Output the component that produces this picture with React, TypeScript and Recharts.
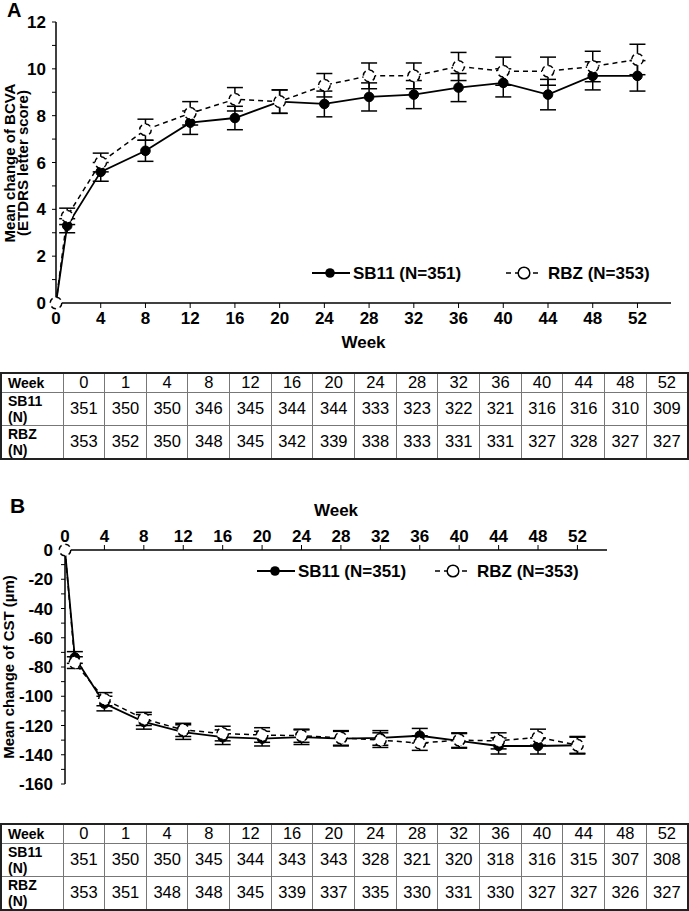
import React from "react";
import { LineChart, Line, XAxis, YAxis, ErrorBar, Label } from "recharts";

// weeks shared by both panels and tables
const weeks = [0, 1, 4, 8, 12, 16, 20, 24, 28, 32, 36, 40, 44, 48, 52];
const weekTicks = [0, 4, 8, 12, 16, 20, 24, 28, 32, 36, 40, 44, 48, 52];

// Panel A - BCVA
const bcvaSB11 = [0, 3.3, 5.6, 6.5, 7.7, 7.9, 8.6, 8.5, 8.8, 8.9, 9.2, 9.4, 8.9, 9.7, 9.7];
const bcvaSB11Err = [0, 0.3, 0.4, 0.45, 0.5, 0.5, 0.5, 0.55, 0.6, 0.6, 0.6, 0.6, 0.65, 0.6, 0.65];
const bcvaRBZ = [0, 3.7, 6.0, 7.4, 8.1, 8.7, 8.6, 9.3, 9.7, 9.7, 10.1, 9.9, 9.9, 10.1, 10.4];
const bcvaRBZErr = [0, 0.35, 0.4, 0.45, 0.5, 0.5, 0.5, 0.5, 0.55, 0.55, 0.6, 0.6, 0.6, 0.65, 0.65];
const bcvaTicks = [0, 1, 2, 3, 4, 5, 6, 7, 8, 9, 10, 11, 12];

// Panel B - CST
const cstSB11 = [0, -73.5, -105, -117.5, -124.5, -128, -129, -128, -129, -128.5, -127, -130.5, -134, -134, -133.5];
const cstSB11Err = [0, 4, 5, 5, 5, 5, 5, 5, 5, 5, 5, 5, 5.5, 5.5, 5.5];
const cstRBZ = [0, -77, -102, -115.5, -123, -125.5, -126.5, -127, -128.5, -130, -132, -130, -130.5, -128, -133.5];
const cstRBZErr = [0, 4, 4.5, 4.5, 4.5, 5, 5, 4.5, 5, 5, 5, 5, 5.5, 5.5, 6];
const cstTicks = [0, -10, -20, -30, -40, -50, -60, -70, -80, -90, -100, -110, -120, -130, -140, -150, -160];

// N at risk tables
const nA_SB11 = [351, 350, 350, 346, 345, 344, 344, 333, 323, 322, 321, 316, 316, 310, 309];
const nA_RBZ = [353, 352, 350, 348, 345, 342, 339, 338, 333, 331, 331, 327, 328, 327, 327];
const nB_SB11 = [351, 350, 350, 345, 344, 343, 343, 328, 321, 320, 318, 316, 315, 307, 308];
const nB_RBZ = [353, 351, 348, 348, 345, 339, 337, 335, 330, 331, 330, 327, 327, 326, 327];

const NARROW = "'Liberation Sans Narrow', 'Liberation Sans', Arial, sans-serif";
const SANS = "'Liberation Sans', Arial, sans-serif";

const bcvaData = weeks.map((w, i) => ({
  week: w,
  sb: bcvaSB11[i],
  sbErr: bcvaSB11Err[i],
  rbz: bcvaRBZ[i],
  rbzErr: bcvaRBZErr[i],
}));

const cstData = weeks.map((w, i) => ({
  week: w,
  sb: cstSB11[i],
  sbErr: cstSB11Err[i],
  rbz: cstRBZ[i],
  rbzErr: cstRBZErr[i],
}));

const tickStyle = { fontFamily: NARROW, fontSize: 17, fontWeight: 700, fill: "#000" };
const axisLine = { stroke: "#000", strokeWidth: 1.5 };
const tickLine = { stroke: "#000", strokeWidth: 1 };

const sbDot = { r: 4.8, fill: "#000", stroke: "#000", strokeWidth: 1 };
const rbzDot = { r: 5.8, fill: "#fff", stroke: "#000", strokeWidth: 1.5 };

function LegendRow({ y, a, b }: { y: number; a: number; b: number }) {
  // a: start x of SB11 line, b: start x of RBZ dashes
  return (
    <svg width={689} height={22} style={{ position: "absolute", left: 0, top: y - 11 }}>
      <line x1={a} y1={11} x2={a + 38} y2={11} stroke="#000" strokeWidth={1.8} />
      <circle cx={a + 18} cy={11} r={4.8} fill="#000" />
      <text x={a + 41} y={17} style={tickStyle}>
        SB11 (N=351)
      </text>
      <line x1={b} y1={11} x2={b + 34} y2={11} stroke="#000" strokeWidth={1.5} strokeDasharray="5 4" />
      <circle cx={b + 18} cy={11} r={5.8} fill="#fff" stroke="#000" strokeWidth={1.5} />
      <text x={b + 42} y={17} style={tickStyle}>
        RBZ (N=353)
      </text>
    </svg>
  );
}

function NTable({ top, sb, rbz }: { top: number; sb: number[]; rbz: number[] }) {
  const cell: React.CSSProperties = {
    border: "1.5px solid #777",
    padding: 0,
    textAlign: "center",
    fontFamily: NARROW,
    fontSize: 16.5,
    lineHeight: "17px",
    color: "#000",
  };
  const head: React.CSSProperties = {
    ...cell,
    textAlign: "left",
    paddingLeft: 6,
    fontFamily: SANS,
    fontWeight: 700,
    fontSize: 14,
    lineHeight: "16px",
  };
  return (
    <table
      style={{
        position: "absolute",
        left: 0,
        top,
        width: 689,
        borderCollapse: "collapse",
        tableLayout: "fixed",
        border: "2px solid #222",
      }}
    >
      <colgroup>
        <col style={{ width: 62 }} />
        {weeks.map((w) => (
          <col key={w} />
        ))}
      </colgroup>
      <tbody>
        <tr style={{ height: 19 }}>
          <td style={head}>Week</td>
          {weeks.map((w) => (
            <td key={w} style={cell}>
              {w}
            </td>
          ))}
        </tr>
        <tr style={{ height: 33 }}>
          <td style={head}>
            SB11
            <br />
            (N)
          </td>
          {sb.map((v, i) => (
            <td key={i} style={cell}>
              {v}
            </td>
          ))}
        </tr>
        <tr style={{ height: 34 }}>
          <td style={head}>
            RBZ
            <br />
            (N)
          </td>
          {rbz.map((v, i) => (
            <td key={i} style={cell}>
              {v}
            </td>
          ))}
        </tr>
      </tbody>
    </table>
  );
}

// rotated axis title, centred on (cx, cy)
function VText({ cx, cy, children }: { cx: number; cy: number; children: React.ReactNode }) {
  return (
    <div
      style={{
        position: "absolute",
        left: cx - 150,
        top: cy - 8,
        width: 300,
        height: 16,
        lineHeight: "16px",
        textAlign: "center",
        transform: "rotate(-90deg)",
        fontFamily: SANS,
        fontWeight: 700,
        fontSize: 15,
        color: "#000",
        whiteSpace: "nowrap",
      }}
    >
      {children}
    </div>
  );
}

export default function App() {
  return (
    <div
      style={{
        position: "absolute",
        left: 0,
        top: 0,
        width: 689,
        height: 911,
        background: "#fff",
        overflow: "hidden",
      }}
    >
      <div style={{ position: "absolute", left: 7, top: 0, fontFamily: SANS, fontWeight: 700, fontSize: 20, lineHeight: "20px" }}>
        A
      </div>
      <div style={{ position: "absolute", left: 0, top: 0 }}>
        <LineChart width={689} height={360} data={bcvaData} margin={{ top: 22, right: 18, left: 10, bottom: 27 }}>
          <XAxis
            dataKey="week"
            type="number"
            domain={[0, 55]}
            ticks={weekTicks}
            interval={0}
            tick={tickStyle}
            axisLine={axisLine}
            tickLine={tickLine}
            tickSize={5}
            tickMargin={4}
            height={30}
          >
            <Label value="Week" position="bottom" offset={3} style={tickStyle} />
          </XAxis>
          <YAxis
            type="number"
            domain={[0, 12]}
            ticks={bcvaTicks}
            interval={0}
            tickFormatter={(v: number) => (v % 2 === 0 ? String(v) : "")}
            tick={tickStyle}
            axisLine={axisLine}
            tickLine={tickLine}
            tickSize={4}
            tickMargin={6}
            width={46}
          />
          <Line dataKey="sb" stroke="#000" strokeWidth={1.8} dot={sbDot} activeDot={false} isAnimationActive={false}>
            <ErrorBar dataKey="sbErr" width={8} stroke="#000" strokeWidth={1.5} direction="y" />
          </Line>
          <Line
            dataKey="rbz"
            stroke="#000"
            strokeWidth={1.5}
            strokeDasharray="5 4"
            dot={rbzDot}
            activeDot={false}
            isAnimationActive={false}
          >
            <ErrorBar dataKey="rbzErr" width={8} stroke="#000" strokeWidth={1.5} direction="y" />
          </Line>
        </LineChart>
      </div>
      <VText cx={10} cy={163}>Mean change of BCVA</VText>
      <VText cx={23} cy={163}>(ETDRS letter score)</VText>
      <LegendRow y={273} a={312} b={506} />
      <NTable top={372} sb={nA_SB11} rbz={nA_RBZ} />

      <div style={{ position: "absolute", left: 10, top: 495, fontFamily: SANS, fontWeight: 700, fontSize: 21, lineHeight: "22px" }}>
        B
      </div>
      <div style={{ position: "absolute", left: 0, top: 480 }}>
        <LineChart width={689} height={322} data={cstData} margin={{ top: 40, right: 82, left: 10, bottom: 18 }}>
          <XAxis
            dataKey="week"
            type="number"
            orientation="top"
            domain={[0, 55]}
            ticks={weekTicks}
            interval={0}
            tick={tickStyle}
            axisLine={axisLine}
            tickLine={tickLine}
            tickSize={5}
            tickMargin={3}
            height={30}
          >
            <Label value="Week" position="top" offset={4} style={tickStyle} />
          </XAxis>
          <YAxis
            type="number"
            domain={[-160, 0]}
            ticks={cstTicks}
            interval={0}
            tickFormatter={(v: number) => (v % 20 === 0 ? String(v) : "")}
            tick={tickStyle}
            axisLine={axisLine}
            tickLine={tickLine}
            tickSize={4}
            tickMargin={8}
            width={55}
          />
          <Line dataKey="sb" stroke="#000" strokeWidth={1.8} dot={sbDot} activeDot={false} isAnimationActive={false}>
            <ErrorBar dataKey="sbErr" width={8} stroke="#000" strokeWidth={1.5} direction="y" />
          </Line>
          <Line
            dataKey="rbz"
            stroke="#000"
            strokeWidth={1.5}
            strokeDasharray="5 4"
            dot={rbzDot}
            activeDot={false}
            isAnimationActive={false}
          >
            <ErrorBar dataKey="rbzErr" width={8} stroke="#000" strokeWidth={1.5} direction="y" />
          </Line>
        </LineChart>
      </div>
      <VText cx={9} cy={667}>Mean change of CST (µm)</VText>
      <LegendRow y={571} a={257} b={435} />
      <NTable top={823} sb={nB_SB11} rbz={nB_RBZ} />
    </div>
  );
}
